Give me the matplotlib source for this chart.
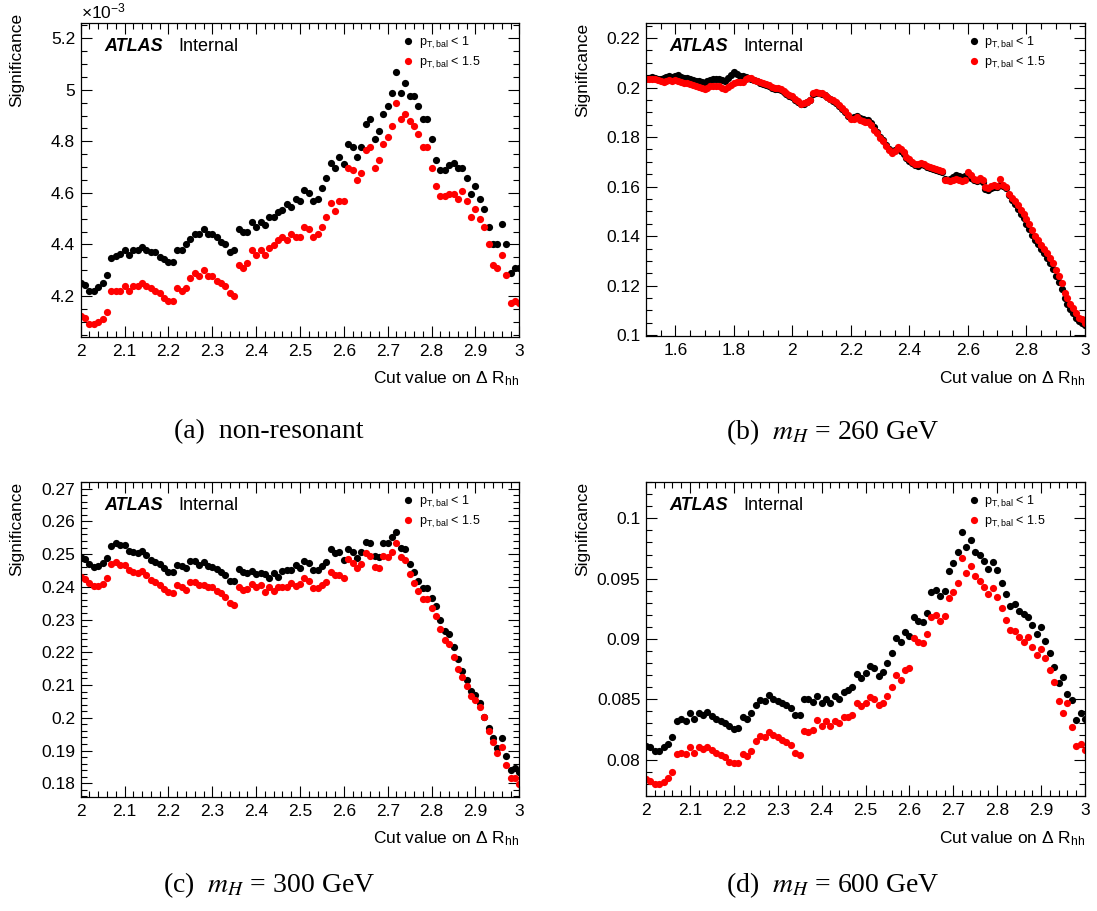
import numpy as np
import matplotlib
matplotlib.use("Agg")
import matplotlib.pyplot as plt
from matplotlib.ticker import MultipleLocator, FuncFormatter

plt.rcParams['font.family'] = ['Liberation Sans', 'DejaVu Sans']
plt.rcParams['mathtext.fontset'] = 'custom'
plt.rcParams['mathtext.rm'] = 'Liberation Sans'
plt.rcParams['mathtext.it'] = 'Liberation Sans:italic'
plt.rcParams['mathtext.bf'] = 'Liberation Sans:bold'

# cut values on DeltaR_hh
cut_2to3 = np.round(np.linspace(2.0, 3.0, 101), 2)
cut_15to3 = np.round(np.linspace(1.5, 3.0, 151), 2)

# (a) non-resonant
nonres_pt1 = np.array([
    4.252, 4.243, 4.221, 4.221, 4.236, 4.252, 4.280, 4.348, 4.355, 4.363,
    4.380, 4.360, 4.380, 4.380, 4.390, 4.378, 4.370, 4.370, 4.352, 4.342,
    4.330, 4.330, 4.380, 4.380, 4.400, 4.420, 4.440, 4.440, 4.458, 4.440,
    4.440, 4.430, 4.410, 4.400, 4.370, 4.378, 4.458, 4.450, 4.450, 4.488,
    4.468, 4.488, 4.477, 4.507, 4.507, 4.526, 4.535, 4.556, 4.546, 4.578,
    4.568, 4.610, 4.600, 4.568, 4.578, 4.617, 4.658, 4.717, 4.698, 4.739,
    4.710, 4.788, 4.778, 4.739, 4.778, 4.868, 4.888, 4.808, 4.839, 4.907,
    4.937, 4.987, 5.068, 4.987, 5.028, 4.977, 4.977, 4.937, 4.886, 4.886,
    4.808, 4.728, 4.688, 4.688, 4.707, 4.717, 4.698, 4.698, 4.658, 4.597,
    4.628, 4.578, 4.539, 4.468, 4.400, 4.400, 4.479, 4.400, 4.290, 4.310,
    4.310]) * 1e-3
nonres_pt15 = np.array([
    4.123, 4.114, 4.092, 4.092, 4.100, 4.111, 4.139, 4.219, 4.219, 4.219,
    4.239, 4.219, 4.239, 4.239, 4.249, 4.239, 4.230, 4.221, 4.210, 4.191,
    4.181, 4.181, 4.230, 4.221, 4.230, 4.268, 4.288, 4.277, 4.300, 4.279,
    4.279, 4.259, 4.249, 4.240, 4.210, 4.200, 4.320, 4.310, 4.329, 4.378,
    4.359, 4.378, 4.359, 4.388, 4.397, 4.417, 4.427, 4.419, 4.439, 4.430,
    4.430, 4.468, 4.458, 4.430, 4.439, 4.468, 4.507, 4.559, 4.529, 4.568,
    4.568, 4.698, 4.688, 4.649, 4.677, 4.768, 4.778, 4.698, 4.726, 4.788,
    4.817, 4.858, 4.948, 4.888, 4.907, 4.879, 4.858, 4.827, 4.778, 4.778,
    4.698, 4.628, 4.588, 4.588, 4.597, 4.597, 4.578, 4.608, 4.568, 4.507,
    4.539, 4.498, 4.468, 4.400, 4.320, 4.310, 4.359, 4.281, 4.172, 4.181,
    4.172]) * 1e-3

# (b) m_H = 260 GeV
m260_pt1 = [
    0.2038, 0.2040, 0.2042, 0.2040, 0.2036, 0.2034, 0.2040, 0.2044, 0.2045, 0.2042,
    0.2046, 0.2050, 0.2042, 0.2040, 0.2038, 0.2035, 0.2030, 0.2028, 0.2025, 0.2022,
    0.2018, 0.2026, 0.2032, 0.2035, 0.2036, 0.2034, 0.2030, 0.2026, 0.2040, 0.2052,
    0.2062, 0.2055, 0.2046, 0.2045, 0.2042, 0.2040, 0.2036, 0.2030, 0.2026, 0.2020,
    0.2014, 0.2010, 0.2006, 0.1998, 0.1996, 0.1994, 0.1990, 0.1982, 0.1976, 0.1968,
    0.1960, 0.1950, 0.1940, 0.1932, 0.1935, 0.1940, 0.1948, 0.1976, 0.1980, 0.1978,
    0.1976, 0.1970, 0.1960, 0.1952, 0.1946, 0.1936, 0.1924, 0.1914, 0.1900, 0.1885,
    0.1876, 0.1882, 0.1886, 0.1876, 0.1872, 0.1870, 0.1868, 0.1858, 0.1840, 0.1820,
    0.1800, 0.1788, 0.1770, 0.1752, 0.1745, 0.1748, 0.1755, 0.1745, 0.1732, 0.1715,
    0.1705, 0.1695, 0.1686, 0.1684, 0.1690, 0.1688, 0.1680, 0.1676, 0.1672, 0.1668,
    0.1664, 0.1658, 0.1630, 0.1628, 0.1630, 0.1640, 0.1645, 0.1644, 0.1640, 0.1642,
    0.1640, 0.1636, 0.1626, 0.1624, 0.1628, 0.1618, 0.1592, 0.1588, 0.1596, 0.1600,
    0.1598, 0.1606, 0.1602, 0.1594, 0.1565, 0.1545, 0.1528, 0.1510, 0.1490, 0.1472,
    0.1450, 0.1430, 0.1405, 0.1385, 0.1368, 0.1348, 0.1330, 0.1310, 0.1290, 0.1268,
    0.1240, 0.1215, 0.1185, 0.1150, 0.1128, 0.1105, 0.1090, 0.1070, 0.1058, 0.1050,
    0.1040]
m260_pt15 = [
    0.2033, 0.2034, 0.2035, 0.2034, 0.2030, 0.2027, 0.2022, 0.2026, 0.2030, 0.2028,
    0.2030, 0.2026, 0.2022, 0.2020, 0.2018, 0.2015, 0.2012, 0.2008, 0.2003, 0.1998,
    0.1993, 0.2000, 0.2005, 0.2007, 0.2006, 0.2005, 0.2000, 0.1993, 0.2003, 0.2012,
    0.2020, 0.2022, 0.2022, 0.2024, 0.2034, 0.2040, 0.2038, 0.2032, 0.2028, 0.2022,
    0.2018, 0.2014, 0.2010, 0.2002, 0.2000, 0.1997, 0.1995, 0.1985, 0.1980, 0.1972,
    0.1965, 0.1955, 0.1945, 0.1935, 0.1936, 0.1942, 0.1950, 0.1978, 0.1982, 0.1980,
    0.1978, 0.1972, 0.1962, 0.1955, 0.1950, 0.1940, 0.1928, 0.1918, 0.1905, 0.1890,
    0.1872, 0.1875, 0.1880, 0.1868, 0.1866, 0.1862, 0.1860, 0.1850, 0.1830, 0.1815,
    0.1795, 0.1785, 0.1765, 0.1748, 0.1735, 0.1745, 0.1760, 0.1750, 0.1738, 0.1720,
    0.1712, 0.1700, 0.1692, 0.1690, 0.1694, 0.1692, 0.1684, 0.1680, 0.1676, 0.1670,
    0.1666, 0.1662, 0.1628, 0.1626, 0.1622, 0.1625, 0.1632, 0.1628, 0.1622, 0.1626,
    0.1658, 0.1645, 0.1630, 0.1628, 0.1636, 0.1626, 0.1600, 0.1596, 0.1602, 0.1605,
    0.1602, 0.1632, 0.1608, 0.1598, 0.1572, 0.1555, 0.1540, 0.1525, 0.1505, 0.1490,
    0.1470, 0.1450, 0.1425, 0.1400, 0.1385, 0.1365, 0.1350, 0.1330, 0.1310, 0.1290,
    0.1262, 0.1240, 0.1210, 0.1170, 0.1150, 0.1125, 0.1108, 0.1090, 0.1070, 0.1065,
    0.1048]

# (c) m_H = 300 GeV
m300_pt1 = [
    0.2492, 0.2484, 0.2471, 0.2461, 0.2463, 0.2474, 0.2487, 0.2524, 0.2535, 0.2527,
    0.2527, 0.2509, 0.2507, 0.2502, 0.2510, 0.2497, 0.2482, 0.2477, 0.2469, 0.2456,
    0.2444, 0.2444, 0.2468, 0.2463, 0.2458, 0.2479, 0.2480, 0.2466, 0.2475, 0.2463,
    0.2461, 0.2453, 0.2446, 0.2436, 0.2418, 0.2418, 0.2453, 0.2446, 0.2441, 0.2449,
    0.2438, 0.2441, 0.2438, 0.2428, 0.2441, 0.2431, 0.2448, 0.2451, 0.2451, 0.2468,
    0.2458, 0.2479, 0.2474, 0.2451, 0.2451, 0.2463, 0.2477, 0.2515, 0.2502, 0.2505,
    0.2482, 0.2515, 0.2505, 0.2487, 0.2505, 0.2538, 0.2533, 0.2494, 0.2490, 0.2533,
    0.2533, 0.2553, 0.2568, 0.2520, 0.2514, 0.2469, 0.2446, 0.2419, 0.2395, 0.2395,
    0.2365, 0.2341, 0.2300, 0.2266, 0.2256, 0.2217, 0.2181, 0.2144, 0.2115, 0.2082,
    0.2069, 0.2044, 0.2001, 0.1970, 0.1937, 0.1909, 0.1937, 0.1883, 0.1842, 0.1847,
    0.1835]
m300_pt15 = [
    0.2431, 0.2423, 0.2412, 0.2402, 0.2402, 0.2410, 0.2426, 0.2469, 0.2477, 0.2468,
    0.2468, 0.2451, 0.2446, 0.2441, 0.2449, 0.2436, 0.2421, 0.2415, 0.2405, 0.2392,
    0.2383, 0.2382, 0.2405, 0.2400, 0.2390, 0.2415, 0.2415, 0.2405, 0.2407, 0.2398,
    0.2398, 0.2387, 0.2380, 0.2370, 0.2351, 0.2344, 0.2398, 0.2390, 0.2393, 0.2408,
    0.2400, 0.2405, 0.2385, 0.2398, 0.2388, 0.2400, 0.2400, 0.2400, 0.2412, 0.2402,
    0.2408, 0.2426, 0.2418, 0.2395, 0.2395, 0.2405, 0.2415, 0.2446, 0.2436, 0.2436,
    0.2426, 0.2484, 0.2474, 0.2456, 0.2469, 0.2502, 0.2494, 0.2461, 0.2456, 0.2494,
    0.2490, 0.2507, 0.2535, 0.2490, 0.2482, 0.2439, 0.2412, 0.2388, 0.2362, 0.2362,
    0.2334, 0.2311, 0.2270, 0.2237, 0.2225, 0.2186, 0.2148, 0.2125, 0.2097, 0.2066,
    0.2054, 0.2034, 0.2001, 0.1960, 0.1927, 0.1891, 0.1912, 0.1855, 0.1815, 0.1815,
    0.1797]

# (d) m_H = 600 GeV
m600_pt1 = [
    0.08111, 0.08100, 0.08072, 0.08072, 0.08100, 0.08133, 0.08188, 0.08321, 0.08340, 0.08321,
    0.08382, 0.08340, 0.08382, 0.08373, 0.08396, 0.08362, 0.08340, 0.08321, 0.08299, 0.08277,
    0.08252, 0.08263, 0.08354, 0.08340, 0.08382, 0.08451, 0.08492, 0.08487, 0.08534, 0.08498,
    0.08487, 0.08470, 0.08451, 0.08431, 0.08368, 0.08368, 0.08506, 0.08498, 0.08479, 0.08526,
    0.08473, 0.08506, 0.08473, 0.08526, 0.08501, 0.08562, 0.08575, 0.08603, 0.08708, 0.08680,
    0.08719, 0.08774, 0.08755, 0.08694, 0.08727, 0.08797, 0.08880, 0.09004, 0.08971, 0.09059,
    0.09026, 0.09184, 0.09148, 0.09142, 0.09217, 0.09386, 0.09405, 0.09355, 0.09397, 0.09566,
    0.09632, 0.09721, 0.09889, 0.09759, 0.09820, 0.09723, 0.09696, 0.09649, 0.09577, 0.09640,
    0.09571, 0.09460, 0.09369, 0.09272, 0.09289, 0.09234, 0.09206, 0.09184, 0.09115, 0.09037,
    0.09095, 0.08985, 0.08880, 0.08769, 0.08631, 0.08686, 0.08542, 0.08492, 0.08332, 0.08382,
    0.08340]
m600_pt15 = [
    0.07842, 0.07823, 0.07795, 0.07795, 0.07815, 0.07851, 0.07898, 0.08044, 0.08055, 0.08044,
    0.08100, 0.08058, 0.08100, 0.08091, 0.08105, 0.08077, 0.08055, 0.08036, 0.08017, 0.07981,
    0.07972, 0.07972, 0.08050, 0.08030, 0.08069, 0.08155, 0.08194, 0.08188, 0.08230, 0.08202,
    0.08183, 0.08160, 0.08147, 0.08119, 0.08055, 0.08036, 0.08238, 0.08230, 0.08249, 0.08326,
    0.08277, 0.08321, 0.08277, 0.08321, 0.08299, 0.08349, 0.08354, 0.08368, 0.08465, 0.08443,
    0.08470, 0.08520, 0.08498, 0.08451, 0.08470, 0.08531, 0.08603, 0.08700, 0.08658, 0.08741,
    0.08763, 0.09012, 0.08976, 0.08968, 0.09040, 0.09184, 0.09198, 0.09151, 0.09189, 0.09336,
    0.09391, 0.09466, 0.09673, 0.09549, 0.09604, 0.09521, 0.09483, 0.09427, 0.09369, 0.09419,
    0.09350, 0.09253, 0.09156, 0.09073, 0.09068, 0.09018, 0.08976, 0.09018, 0.08935, 0.08866,
    0.08916, 0.08838, 0.08741, 0.08639, 0.08487, 0.08382, 0.08470, 0.08271, 0.08111, 0.08133,
    0.08077]

series_labels = [r"p$_\mathrm{T,bal}$ < 1", r"p$_\mathrm{T,bal}$ < 1.5"]
captions = ["(a)  non-resonant",
            r"(b)  $m_H$ = 260 GeV",
            r"(c)  $m_H$ = 300 GeV",
            r"(d)  $m_H$ = 600 GeV"]

W, H = 1097, 911
fig = plt.figure(figsize=(W / 100, H / 100), dpi=100)


def make_axes(left, top, right, bottom):
    return fig.add_axes([left / W, 1 - bottom / H, (right - left) / W, (bottom - top) / H])


def root_style(ax, xlim, ylim, xmaj, xmin, ymaj, ymin, scale=1.0):
    ax.set_xlim(*xlim)
    ax.set_ylim(*ylim)
    ax.xaxis.set_major_locator(MultipleLocator(xmaj))
    ax.xaxis.set_minor_locator(MultipleLocator(xmin))
    ax.yaxis.set_major_locator(MultipleLocator(ymaj))
    ax.yaxis.set_minor_locator(MultipleLocator(ymin))
    ax.xaxis.set_major_formatter(FuncFormatter(lambda v, _: f"{round(v, 6):g}"))
    ax.yaxis.set_major_formatter(FuncFormatter(lambda v, _: f"{round(v * scale, 6):g}"))
    ax.tick_params(which='both', direction='in', top=True, right=True, width=0.8,
                   labelsize=12.5)
    ax.tick_params(which='major', length=8)
    ax.tick_params(which='minor', length=4)
    ax.tick_params(axis='x', pad=5)
    ax.tick_params(axis='y', pad=4)
    for s in ax.spines.values():
        s.set_linewidth(0.9)
    ax.set_xlabel(r"Cut value on Δ R$_\mathrm{hh}$", fontsize=12.5, loc='right')
    ax.xaxis.set_label_coords(1.0, -0.105)
    ax.set_ylabel("Significance", fontsize=12.5, loc='top')
    ax.yaxis.set_label_coords(-0.128, 1.0)
    ax.text(0.053, 0.923, "ATLAS", transform=ax.transAxes, fontsize=13,
            fontweight='bold', fontstyle='italic', va='center')
    ax.text(0.222, 0.923, "Internal", transform=ax.transAxes, fontsize=13, va='center')


def draw(ax, x, y1, y15):
    ax.plot(x, y1, 'o', color='black', ms=5.2, mec='none', label=series_labels[0])
    ax.plot(x, y15, 'o', color='#ff0000', ms=5.2, mec='none', label=series_labels[1])
    ax.legend(loc='upper left', bbox_to_anchor=(0.738, 0.962), frameon=False,
              fontsize=9, handlelength=0.6, handletextpad=0.55, labelspacing=0.3,
              borderpad=0, borderaxespad=0, numpoints=1)


ax_a = make_axes(80.7, 22.7, 519.3, 336.7)
draw(ax_a, cut_2to3, nonres_pt1, nonres_pt15)
root_style(ax_a, (2, 3), (4.042e-3, 5.26e-3), 0.1, 0.02, 0.2e-3, 0.05e-3, scale=1e3)
ax_a.yaxis.set_label_coords(-0.128, 1.03)
ax_a.text(0.0, 1.005, r"×10$^{-3}$", transform=ax_a.transAxes, fontsize=12.5,
          ha='left', va='bottom')

ax_b = make_axes(646, 22.7, 1085, 336.2)
draw(ax_b, cut_15to3, m260_pt1, m260_pt15)
root_style(ax_b, (1.5, 3), (0.0996, 0.2262), 0.2, 0.05, 0.02, 0.005)

ax_c = make_axes(80.7, 481.7, 519.3, 796.7)
draw(ax_c, cut_2to3, m300_pt1, m300_pt15)
root_style(ax_c, (2, 3), (0.1759, 0.2721), 0.1, 0.02, 0.01, 0.002)

ax_d = make_axes(646, 481.7, 1085, 796.2)
draw(ax_d, cut_2to3, m600_pt1, m600_pt15)
root_style(ax_d, (2, 3), (0.07696, 0.10304), 0.1, 0.02, 0.005, 0.001)

# sub-figure captions
for (cx, cy), text in zip([(269, 432), (833, 432), (269, 885), (833, 885)], captions):
    fig.text(cx / W, 1 - cy / H, text, ha='center', va='center', fontsize=20,
             family='Liberation Serif', math_fontfamily='stix')

fig.savefig("out.png", dpi=100)
